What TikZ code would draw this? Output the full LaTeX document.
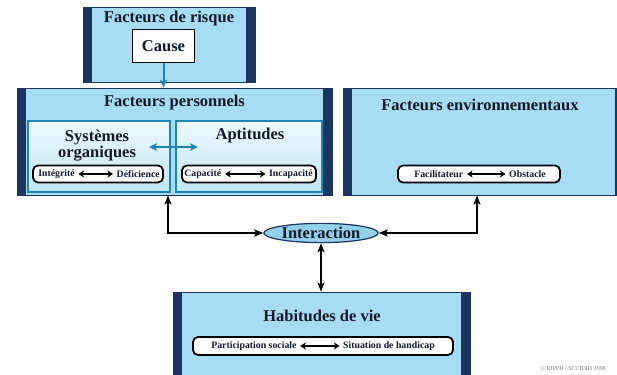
\documentclass[tikz,border=0pt]{standalone}
\usepackage{fontspec}
\setmainfont{Liberation Serif}
\usetikzlibrary{calc,positioning,arrows,arrows.meta,shapes.geometric}
\definecolor{ciel}{RGB}{166,221,245}
\definecolor{marine}{RGB}{28,52,96}
\definecolor{turquoise}{RGB}{32,132,176}
\definecolor{encre}{RGB}{18,24,40}
\tikzstyle{panel} = [draw=marine, line width=.8pt, fill=ciel, rectangle, inner sep=0pt,
    path picture={
      \fill[marine] (path picture bounding box.north west) rectangle ([xshift=9pt]path picture bounding box.south west);
      \fill[marine] (path picture bounding box.north east) rectangle ([xshift=-9pt]path picture bounding box.south east);
    }]
\tikzstyle{sousbloc} = [draw=turquoise, line width=1.6pt, rectangle, inner sep=0pt,
    top color=ciel!20!white, bottom color=ciel!70!white, minimum height=71pt]
\tikzstyle{titre} = [text=encre, font=\fontsize{16.5}{15}\selectfont\bfseries, inner sep=1pt]
\tikzstyle{petit} = [text=encre, font=\fontsize{9.8}{9}\selectfont\bfseries, inner sep=1pt]
\tikzstyle{pilule} = [draw=black, line width=1.8pt, fill=white, rounded corners=5pt,
    minimum height=17pt, inner sep=0pt]
\tikzset{
  duo/.style={{Stealth[length=5.5pt,width=7pt,inset=1.5pt]}-{Stealth[length=5.5pt,width=7pt,inset=1.5pt]},
    line width=2pt, black, shorten <=2.5pt, shorten >=2.5pt},
  lien/.style={{Stealth[length=9pt,width=7pt,inset=2pt]}-{Stealth[length=9pt,width=7pt,inset=2pt]},
    line width=1.8pt, black},
  fleche bleue/.style={line width=2pt, turquoise}
}

\begin{document}
\begin{tikzpicture}[x=1pt,y=-1pt,>={Stealth[length=8pt,width=7.5pt,inset=2pt]}]
\useasboundingbox (0,0) rectangle (617,374);

% facteurs de risque
\node (risque) [panel,minimum width=172pt,minimum height=75pt] at (169,44.5) {};
\node (risque_titre) [titre] at (169,19) {Facteurs de risque};
\node (cause) [draw=black,line width=1.8pt,fill=white,minimum width=62pt,minimum height=33pt,titre] at (163.5,46) {Cause};

% facteurs personnels
\node (perso) [panel,minimum width=315pt,minimum height=107pt] at (174.5,141.5) {};
\node (perso_titre) [titre] at (174.5,103) {Facteurs personnels};
\draw[fleche bleue,->] (cause.south) -- (cause.south |- perso.north);

\node (systemes) [sousbloc,minimum width=142pt] at (99,156.5) {};
\node (aptitudes) [sousbloc,minimum width=146pt] at (249,156.5) {};
\node (systemes_titre) [titre,align=center] at (97,146) {Systèmes\\organiques};
\node (aptitudes_titre) [titre] at (250,136) {Aptitudes};

\coordinate (croix_g) at (149,147);
\coordinate (croix_d) at (198,147);
\draw[fleche bleue,<->] (croix_g) -- (croix_d);

\node (pil_integ) [pilule,minimum width=130pt] at (98,174) {};
\node (integrite) [petit,anchor=west] at ($(pil_integ.west)+(5,0)$) {Intégrité};
\node (deficience) [petit,anchor=east] at ($(pil_integ.east)+(-3,0)$) {Déficience};
\draw[duo] (integrite) -- (deficience);

\node (pil_capac) [pilule,minimum width=134pt] at (249,174) {};
\node (capacite) [petit,anchor=west] at ($(pil_capac.west)+(2,0)$) {Capacité};
\node (incapacite) [petit,anchor=east] at ($(pil_capac.east)+(-3,0)$) {Incapacité};
\draw[duo] (capacite) -- (incapacite);

% facteurs environnementaux
\node (envir) [panel,minimum width=281pt,minimum height=107pt] at (483.5,141.5) {};
\node (envir_titre) [titre] at (480,105) {Facteurs environnementaux};
\node (pil_facil) [pilule,minimum width=162pt] at (479,174) {};
\node (facilitateur) [petit,anchor=west] at ($(pil_facil.west)+(16,0)$) {Facilitateur};
\node (obstacle) [petit,anchor=east] at ($(pil_facil.east)+(-14,0)$) {Obstacle};
\draw[duo] (facilitateur) -- (obstacle);

% interaction
\node (interaction) [ellipse,draw=marine,line width=1.2pt,fill=ciel!85!turquoise,
    minimum width=108pt,minimum height=19pt,inner sep=0pt,titre] at (321,233) {Interaction};

\coordinate (perso_pied) at (168,195.5);
\coordinate (envir_pied) at (477,195.5);
\draw[lien] (perso_pied) |- (interaction.west);
\draw[lien] (envir_pied) |- (interaction.east);

% habitudes de vie
\node (habitudes) [panel,minimum width=297pt,minimum height=98pt] at (321.5,341) {};
\node (habitudes_titre) [titre] at (322,316) {Habitudes de vie};
\draw[lien] (interaction.south) -- (interaction.south |- habitudes.north);

\node (pil_partic) [pilule,minimum width=260pt,minimum height=18pt] at (323,346) {};
\node (participation) [petit,anchor=west] at ($(pil_partic.west)+(18,0)$) {Participation sociale};
\node (handicap) [petit,anchor=east] at ($(pil_partic.east)+(-18,0)$) {Situation de handicap};
\draw[duo] (participation) -- (handicap);

\node (droits) [font=\fontsize{6}{6}\selectfont, text=gray, anchor=east, inner sep=0pt] at (606,369) {© RIPPH / SCCIDIH 1998};

\end{tikzpicture}
\end{document}
